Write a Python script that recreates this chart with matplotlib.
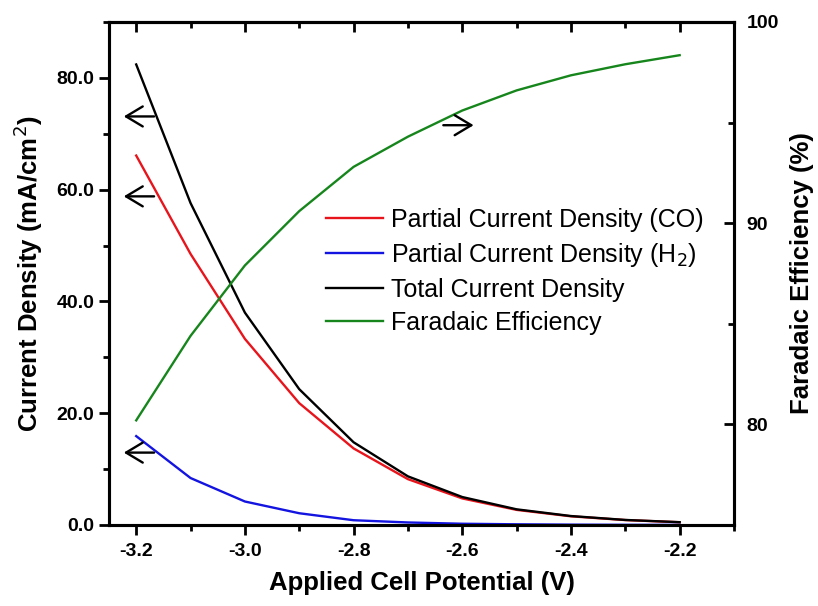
import matplotlib
matplotlib.use('Agg')
import matplotlib.pyplot as plt
from matplotlib.ticker import MultipleLocator, FormatStrFormatter

plt.rcParams['font.family'] = ['Liberation Sans', 'DejaVu Sans']

# applied cell potential (V)
potential = [-3.2, -3.1, -3.0, -2.9, -2.8, -2.7, -2.6, -2.5, -2.4, -2.3, -2.2]
# current densities (mA/cm2)
j_co = [66.1, 48.5, 33.3, 21.8, 13.7, 8.2, 4.75, 2.7, 1.55, 0.88, 0.49]
j_h2 = [15.9, 8.4, 4.2, 2.1, 0.85, 0.45, 0.22, 0.12, 0.06, 0.03, 0.02]
j_total = [82.4, 57.6, 38.0, 24.3, 14.8, 8.7, 5.0, 2.8, 1.6, 0.9, 0.5]
# faradaic efficiency for CO (%)
fe_co = [80.2, 84.4, 87.9, 90.6, 92.8, 94.3, 95.6, 96.6, 97.35, 97.9, 98.35]

fig = plt.figure(figsize=(8.18, 6.06), dpi=100)
ax = fig.add_axes([0.1333, 0.1337, 0.764, 0.830])
ax2 = ax.twinx()

l1, = ax.plot(potential, j_co, color='#e8141c', lw=1.7, label='Partial Current Density (CO)')
l2, = ax.plot(potential, j_h2, color='#1414e0', lw=1.7, label='Partial Current Density (H$_2$)')
l3, = ax.plot(potential, j_total, color='black', lw=1.7, label='Total Current Density')
l4, = ax2.plot(potential, fe_co, color='#16861c', lw=1.7, label='Faradaic Efficiency')

ax.set_xlim(-3.25, -2.10)
ax.set_ylim(0, 90)
ax2.set_ylim(75, 100)

ax.xaxis.set_major_locator(MultipleLocator(0.2))
ax.xaxis.set_minor_locator(MultipleLocator(0.1))
ax.yaxis.set_major_locator(MultipleLocator(20))
ax.yaxis.set_minor_locator(MultipleLocator(10))
ax.xaxis.set_major_formatter(FormatStrFormatter('%.1f'))
ax.yaxis.set_major_formatter(FormatStrFormatter('%.1f'))
ax2.yaxis.set_major_locator(MultipleLocator(10))
ax2.yaxis.set_minor_locator(MultipleLocator(5))

for a in (ax, ax2):
    for sp in a.spines.values():
        sp.set_linewidth(2.2)

ax.tick_params(axis='x', which='both', direction='out', bottom=True, top=False, width=2)
ax.tick_params(axis='x', which='major', length=7, labelsize=14, pad=6)
ax.tick_params(axis='x', which='minor', length=4)
ax.tick_params(axis='y', which='both', direction='out', left=True, right=False, width=2)
ax.tick_params(axis='y', which='major', length=7, labelsize=14)
ax.tick_params(axis='y', which='minor', length=4)
ax2.tick_params(axis='y', which='both', direction='in', width=2)
ax2.tick_params(axis='y', which='major', length=7, labelsize=14, pad=9)
ax2.tick_params(axis='y', which='minor', length=4)

# mirrored ticks on the top edge, pointing inward
top = ax.secondary_xaxis('top')
top.xaxis.set_major_locator(MultipleLocator(0.2))
top.xaxis.set_minor_locator(MultipleLocator(0.1))
top.tick_params(axis='x', which='both', direction='in', width=2, labeltop=False)
top.tick_params(axis='x', which='major', length=7)
top.tick_params(axis='x', which='minor', length=4)
top.spines['top'].set_linewidth(2.2)

for lab in ax.get_xticklabels() + ax.get_yticklabels() + ax2.get_yticklabels():
    lab.set_fontweight('bold')

ax.set_xlabel('Applied Cell Potential (V)', fontsize=18.5, fontweight='bold', labelpad=8)
ax.set_ylabel('Current Density (mA/cm$^2$)', fontsize=18.5, fontweight='bold', labelpad=8)
ax2.set_ylabel('Faradaic Efficiency (%)', fontsize=18.5, fontweight='bold', labelpad=8)

# arrows showing which axis each curve belongs to
arrow = dict(arrowstyle='->, head_length=0.5, head_width=0.3', color='black', lw=1.7,
             mutation_scale=24)
for yv in (73.1, 58.8, 12.95):
    ax.annotate('', xy=(-3.228, yv), xytext=(-3.162, yv), arrowprops=arrow)
ax2.annotate('', xy=(-2.574, 94.87), xytext=(-2.640, 94.87), arrowprops=arrow)

ax.legend(handles=[l1, l2, l3, l4], loc='upper left', bbox_to_anchor=(0.347, 0.63),
          frameon=False, fontsize=18, handlelength=2.3, handletextpad=0.32,
          labelspacing=0.36, borderpad=0, borderaxespad=0)

fig.savefig('out.png', dpi=100)
